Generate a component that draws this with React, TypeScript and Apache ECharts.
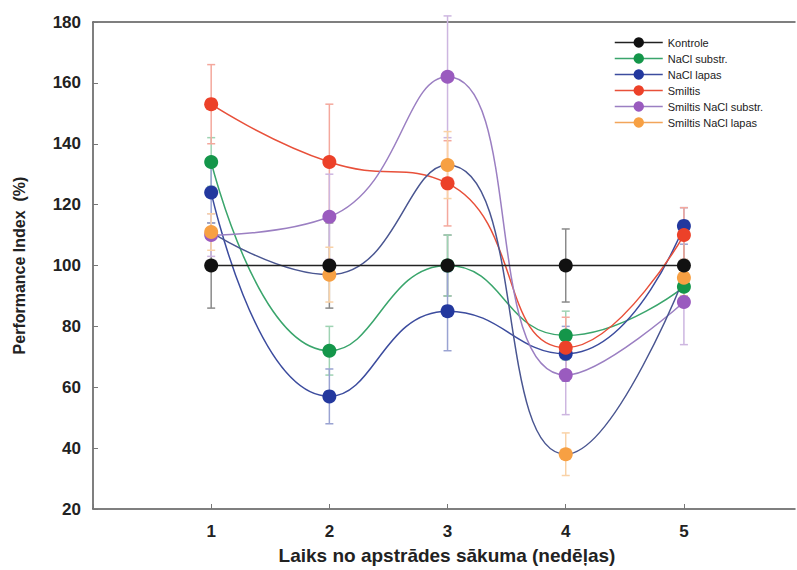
import React, { useEffect, useRef } from "react";
import * as echarts from "echarts";

const weeks = [1, 2, 3, 4, 5];
const seriesNames = [
  "Kontrole",
  "NaCl substr.",
  "NaCl lapas",
  "Smiltis",
  "Smiltis NaCl substr.",
  "Smiltis NaCl lapas",
];
const kontrole = [100, 100, 100, 100, 100];
const naclSubstr = [134, 72, 100, 77, 93];
const naclLapas = [124, 57, 85, 71, 113];
const smiltis = [153, 134, 127, 73, 110];
const smiltisNaclSubstr = [110, 116, 162, 64, 88];
const smiltisNaclLapas = [111, 97, 133, 38, 96];

const kontroleErr = [14, 14, 10, 12, 10];
const naclSubstrErr = [8, 8, 10, 8, 6];
const naclLapasErr = [10, 9, 13, 9, 6];
const smiltisErr = [13, 19, 14, 10, 9];
const smiltisNaclSubstrErr = [7, 14, 20, 13, 14];
const smiltisNaclLapasErr = [6, 9, 11, 7, 6];

const yTicks = [20, 40, 60, 80, 100, 120, 140, 160, 180];

const dotColors = ["#111111", "#14964a", "#23389e", "#ec4129", "#9a5bbf", "#f7a043"];
const lineColors = ["#222222", "#3aa56c", "#3c4c9e", "#e8503a", "#9b7fc2", "#4a5691"];
const legendLineColors = ["#222222", "#3aa56c", "#3c4c9e", "#e8503a", "#9b7fc2", "#f2a55a"];
const errColors = ["#8a8a8a", "#9fd3b3", "#9aa3d2", "#f4a89d", "#cdb6e0", "#f9d2a7"];

export default function App() {
  const ref = useRef<HTMLDivElement>(null);
  useEffect(() => {
    if (!ref.current) return;
    const chart = echarts.init(ref.current, undefined, { renderer: "svg" });
    const values = [kontrole, naclSubstr, naclLapas, smiltis, smiltisNaclSubstr, smiltisNaclLapas];
    const errs = [kontroleErr, naclSubstrErr, naclLapasErr, smiltisErr, smiltisNaclSubstrErr, smiltisNaclLapasErr];
    const font = "'Liberation Sans', Arial, Helvetica, sans-serif";

    const errSeries = values.map((vals, si) => ({
      type: "custom",
      name: "err" + si,
      z: 1,
      silent: true,
      data: weeks.map((w, i) => [w, vals[i] - errs[si][i], vals[i] + errs[si][i]]),
      renderItem: (params: any, api: any) => {
        const x = api.value(0);
        const lo = api.coord([x, api.value(1)]);
        const hi = api.coord([x, api.value(2)]);
        const cw = 4;
        const style = { stroke: errColors[si], lineWidth: 1.5 };
        return {
          type: "group",
          children: [
            { type: "line", shape: { x1: lo[0], y1: lo[1], x2: hi[0], y2: hi[1] }, style },
            { type: "line", shape: { x1: lo[0] - cw, y1: lo[1], x2: lo[0] + cw, y2: lo[1] }, style },
            { type: "line", shape: { x1: hi[0] - cw, y1: hi[1], x2: hi[0] + cw, y2: hi[1] }, style },
          ],
        };
      },
      encode: { x: 0, y: [1, 2] },
    }));

    const lineSeries = values.map((vals, si) => ({
      type: "line",
      name: seriesNames[si],
      smooth: si === 0 ? false : 0.5,
      z: si === 0 ? 4 : 3,
      symbol: "circle",
      symbolSize: 14,
      data: weeks.map((w, i) => [w, vals[i]]),
      itemStyle: { color: dotColors[si], borderWidth: 0 },
      lineStyle: { color: lineColors[si], width: 1.5 },
    }));

    chart.setOption({
      animation: false,
      backgroundColor: "#ffffff",
      textStyle: { fontFamily: font },
      grid: {
        left: 93,
        top: 22,
        right: 2,
        height: 488,
      },
      legend: {
        left: 609,
        top: 32,
        orient: "vertical",
        itemWidth: 48,
        itemHeight: 13,
        itemGap: 5,
        textStyle: { fontSize: 11, color: "#222", fontFamily: font },
        data: seriesNames.map((n, i) => ({
          name: n,
          itemStyle: { color: dotColors[i] },
          lineStyle: { color: legendLineColors[i], width: 1.5 },
        })),
      },
      xAxis: [
        {
          type: "value",
          min: 0,
          max: 5.94,
          interval: 1,
          name: "Laiks no apstrādes sākuma (nedēļas)",
          nameLocation: "middle",
          nameGap: 37,
          nameTextStyle: { fontSize: 19, fontWeight: "bold", color: "#222", fontFamily: font, padding: [0, 0, 0, 6] },
          axisLine: { show: true, lineStyle: { color: "#555", width: 1.5 } },
          axisTick: { show: true, inside: true, length: 5, lineStyle: { color: "#777" } },
          splitLine: { show: false },
          axisLabel: {
            fontSize: 17,
            fontWeight: "bold",
            color: "#222",
            margin: 14,
            showMaxLabel: false,
            formatter: (v: number) => (weeks.includes(v) ? String(v) : ""),
          },
        },
        {
          type: "value",
          position: "top",
          min: 0,
          max: 5.94,
          axisLine: { show: true, lineStyle: { color: "#555", width: 1.5 } },
          axisTick: { show: false },
          axisLabel: { show: false },
          splitLine: { show: false },
        },
      ],
      yAxis: {
        type: "value",
        min: yTicks[0],
        max: yTicks[yTicks.length - 1],
        interval: 20,
        name: "Performance Index  (%)",
        nameLocation: "middle",
        nameGap: 66,
        nameTextStyle: { fontSize: 16, fontWeight: "bold", color: "#222", fontFamily: font },
        axisLine: { show: true, lineStyle: { color: "#555", width: 1.5 } },
        axisTick: { show: true, inside: true, length: 5, lineStyle: { color: "#777" } },
        splitLine: { show: false },
        axisLabel: { fontSize: 17, fontWeight: "bold", color: "#222", margin: 12 },
      },
      series: [...errSeries, ...lineSeries],
    });
    return () => chart.dispose();
  }, []);
  return (
    <div
      ref={ref}
      style={{ position: "fixed", left: 0, top: 0, width: 797, height: 570, background: "#fff" }}
    />
  );
}
